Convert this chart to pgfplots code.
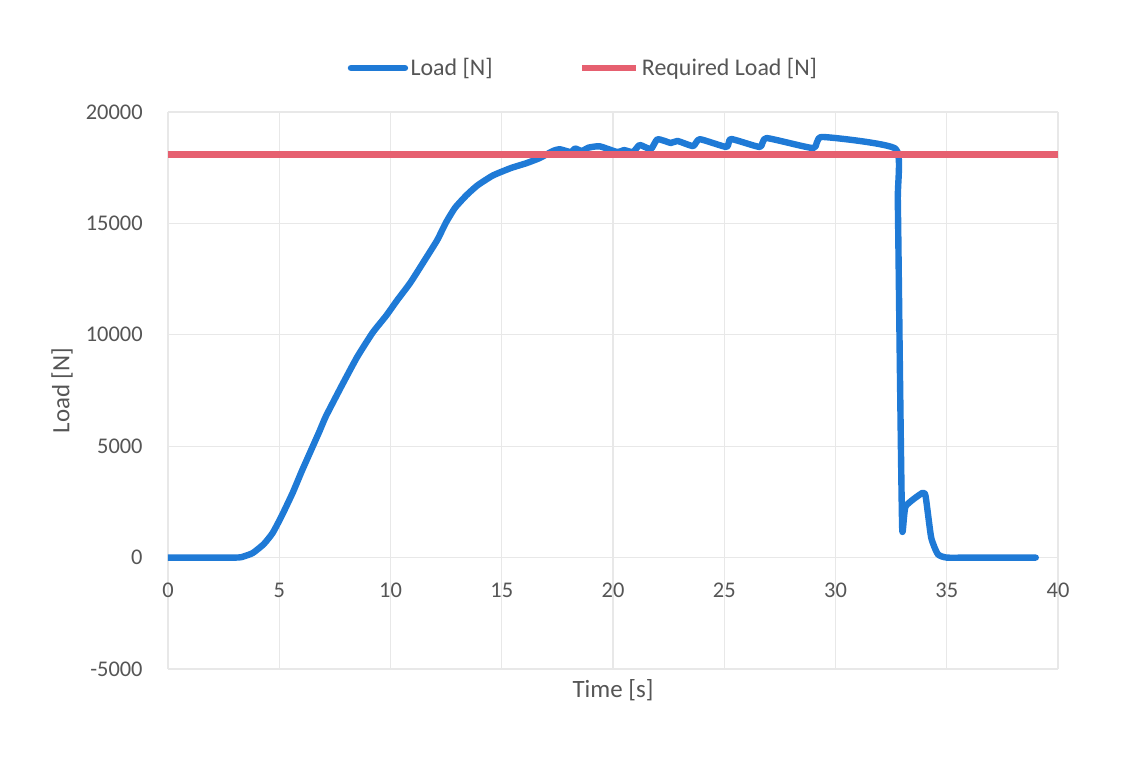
\documentclass[border=0pt]{standalone}
\usepackage{pgfplots}
\pgfplotsset{compat=1.18}
\usepackage{fontspec}
\setmainfont{Carlito}
\definecolor{loadblue}{RGB}{31,122,214}
\definecolor{reqred}{RGB}{230,96,112}
\definecolor{txtgray}{RGB}{85,85,85}
\definecolor{gridgray}{RGB}{232,232,232}
\begin{document}
\begin{tikzpicture}
% frame of the whole picture, 1px of the reference = 0.5bp
\useasboundingbox (-84bp,-52bp) rectangle (482bp,334.5bp);
\begin{axis}[
    at={(0,0)}, anchor=south west,
    scale only axis, width=445bp, height=278.5bp,
    xmin=0, xmax=40, ymin=-5000, ymax=20000,
    xtick={0,5,...,40}, ytick={-5000,0,5000,10000,15000,20000},
    scaled ticks=false,
    /pgf/number format/assume math mode=true,
    /pgf/number format/1000 sep={},
    axis line style={draw=none},
    major tick length=0pt,
    grid=major,
    major grid style={draw=gridgray, line width=0.6bp},
    ticklabel style={text=txtgray, font=\fontsize{11.25}{13}\selectfont},
    xticklabel style={anchor=center, inner sep=0pt, yshift=39.5bp},
    yticklabel style={anchor=east, inner sep=0pt, xshift=-12.5bp},
    xlabel={Time [s]},
    ylabel={Load [N]},
    label style={text=txtgray, font=\fontsize{12.5}{15}\selectfont},
    xlabel style={at={(rel axis cs:0.5,0)}, anchor=center, yshift=-10.5bp},
    ylabel style={at={(rel axis cs:0,0.5)}, anchor=center, yshift=53bp},
    legend columns=2,
    legend style={draw=none, fill=none, at={(0.467,1.079)}, anchor=center,
        font=\fontsize{12}{14}\selectfont, text=txtgray,
        nodes={inner sep=1.2bp},
        /tikz/every even column/.append style={column sep=42bp}},
    legend image code/.code={\draw[#1] (0bp,0bp) -- (27bp,0bp);},
]
\addplot[loadblue, line width=3.2bp, line join=round, line cap=round,
    smooth, tension=0.3] coordinates {
(0,0) (1,0) (2,0) (3,0) (3.3,20) (3.8,200) (4.3,600) (4.7,1100) (5.1,1850)
(5.6,2900) (6.0,3850) (6.4,4750) (6.8,5650) (7.1,6350) (7.8,7700) (8.5,9000)
(9.2,10100) (9.8,10850) (10.3,11550) (10.9,12350) (11.6,13450) (12.1,14250)
(12.5,15050) (12.9,15700) (13.4,16250) (13.9,16700) (14.6,17150) (15.4,17480)
(16.1,17700) (16.7,17930) (17.3,18250) (17.6,18330) (18.1,18200) (18.3,18360)
(18.6,18250) (18.9,18400) (19.4,18460) (20.2,18200) (20.5,18290) (20.9,18200)
(21.2,18520) (21.7,18330) (22.0,18780) (22.6,18610) (22.9,18700) (23.6,18470)
(23.9,18780) (25.1,18430) (25.3,18790) (26.6,18430) (26.9,18830) (29.0,18380)
(29.4,18880) (32.7,18350) (32.8,16000) (32.9,8000) (33.0,1250) (33.15,2300)
(33.9,2900) (34.05,2750) (34.3,900) (34.6,150) (35.0,0) (36,0) (37,0) (38,0)
(39.0,0)
};
\addlegendentry{Load [N]}
\addplot[reqred, line width=3.2bp] coordinates {(0,18100) (40,18100)};
\addlegendentry{Required Load [N]}
\end{axis}
\end{tikzpicture}
\end{document}
